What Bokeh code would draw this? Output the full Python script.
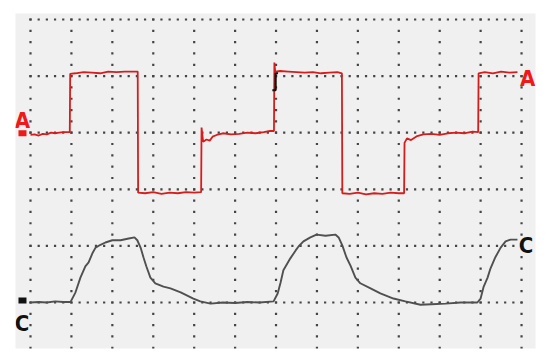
import numpy as np
from bokeh.plotting import figure
from bokeh.models import Range1d, ColumnDataSource
from bokeh.core.properties import value
from bokeh.embed import file_html
from bokeh.resources import INLINE

# ---- data (divisions) ----
a_x = [0.00, 0.10, 0.20, 0.30, 0.40, 0.50, 0.60, 0.70, 0.80, 0.96,
       0.97, 1.10, 1.30, 1.50, 1.70, 1.90, 2.10, 2.30, 2.62,
       2.63, 2.80, 3.00, 3.20, 3.40, 3.60, 3.80, 4.00, 4.17,
       4.18, 4.22, 4.30, 4.38, 4.45, 4.55, 4.70, 4.90, 5.10, 5.30, 5.50, 5.70, 5.85, 5.95,
       5.96, 5.98, 6.10, 6.30, 6.50, 6.70, 6.90, 7.10, 7.30, 7.50, 7.61,
       7.62, 7.80, 8.00, 8.20, 8.40, 8.60, 8.80, 9.00, 9.13,
       9.14, 9.20, 9.30, 9.45, 9.60, 9.80, 10.00, 10.20, 10.40, 10.60, 10.80, 10.94,
       10.95, 11.10, 11.30, 11.50, 11.70, 11.90]
a_y = [2.96, 2.97, 2.95, 2.98, 2.97, 3.00, 2.99, 3.00, 3.01, 3.01,
       4.04, 4.05, 4.07, 4.06, 4.05, 4.08, 4.07, 4.08, 4.08,
       1.94, 1.93, 1.95, 1.92, 1.94, 1.93, 1.95, 1.94, 1.95,
       3.09, 2.84, 2.88, 2.86, 2.93, 2.96, 2.99, 2.97, 2.98, 3.00, 2.99, 3.01, 3.03, 3.03,
       4.24, 4.08, 4.09, 4.08, 4.07, 4.06, 4.07, 4.05, 4.06, 4.07, 4.05,
       1.93, 1.92, 1.94, 1.91, 1.93, 1.92, 1.94, 1.93, 1.93,
       2.82, 2.90, 2.87, 2.94, 2.97, 2.98, 2.96, 2.99, 3.00, 2.99, 3.02, 3.01,
       4.05, 4.07, 4.05, 4.08, 4.06, 4.07]

c_x = [0.00, 0.20, 0.40, 0.60, 0.80, 0.98, 1.10, 1.22, 1.34, 1.42, 1.52, 1.59, 1.71, 1.83,
       2.00, 2.20, 2.40, 2.54, 2.61, 2.69, 2.76, 2.83, 2.93, 3.05, 3.25, 3.42, 3.67, 3.98,
       4.15, 4.40, 4.70, 5.00, 5.30, 5.60, 5.94, 6.04, 6.11, 6.18, 6.35, 6.48, 6.55, 6.67,
       6.84, 6.99, 7.21, 7.45, 7.53, 7.62, 7.72, 7.82, 7.94, 8.06, 8.31, 8.55, 8.87, 9.16,
       9.53, 9.80, 10.14, 10.51, 10.92, 11.00, 11.07, 11.17, 11.24, 11.36, 11.49, 11.61,
       11.73, 11.90]
c_y = [0.00, 0.01, 0.00, 0.02, 0.01, 0.01, 0.18, 0.44, 0.64, 0.71, 0.88, 0.97, 1.02, 1.06,
       1.10, 1.10, 1.13, 1.15, 1.10, 0.97, 0.80, 0.64, 0.44, 0.34, 0.28, 0.25, 0.18, 0.07,
       0.02, -0.02, 0.00, -0.01, 0.01, 0.00, 0.02, 0.16, 0.35, 0.57, 0.78, 0.92, 0.99, 1.08,
       1.15, 1.20, 1.18, 1.20, 1.15, 1.01, 0.80, 0.65, 0.44, 0.34, 0.25, 0.16, 0.07, 0.02,
       -0.04, -0.03, -0.02, 0.00, 0.00, 0.07, 0.27, 0.44, 0.60, 0.80, 0.97, 1.08,
       1.11, 1.11]

trig_x = [6.05, 5.99, 5.99, 5.91]
trig_y = [4.05, 4.05, 3.75, 3.75]

marker_x = [-0.196, -0.196]
marker_y = [2.99, 0.035]
marker_colors = ["#f01818", "#111111"]

label_text = ["A", "A", "C", "C"]
label_x = [-0.196, 12.15, -0.21, 12.11]
label_y = [3.21, 3.95, -0.37, 1.01]
label_colors = ["#f01818", "#f01818", "#111111", "#111111"]

n_xdiv = 12
n_ydiv = 5

p = figure(width=542, height=353, output_backend="svg", toolbar_location=None,
           x_range=Range1d(-0.3666, 12.341), y_range=Range1d(-0.8127, 5.106),
           min_border_left=15, min_border_right=7, min_border_top=13, min_border_bottom=5)
p.axis.visible = False
p.grid.visible = False
p.outline_line_color = None
p.background_fill_color = "#f0f0f0"
p.border_fill_color = "white"

# dotted graticule
gx, gy = [], []
for r in range(n_ydiv + 1):
    xs = np.round(np.arange(0, n_xdiv + 1e-9, 0.2), 3)
    gx.extend(xs); gy.extend([r] * len(xs))
for c in range(n_xdiv + 1):
    ys = np.round(np.arange(-0.8, n_ydiv + 1e-9, 0.2), 3)
    gx.extend([c] * len(ys)); gy.extend(ys)
p.scatter(gx, gy, marker="square", size=2.2, color="#444444", line_width=0)

p.line(c_x, c_y, line_color="#505050", line_width=1.9)
p.line(a_x, a_y, line_color="#d81c1c", line_width=1.8)
p.line(trig_x, trig_y, line_color="#111111", line_width=2.2)

p.rect(marker_x, marker_y, width=8, height=6, width_units="screen", height_units="screen",
       fill_color=marker_colors, line_color=None)

src = ColumnDataSource(dict(x=label_x, y=label_y, t=label_text, c=label_colors))
p.text("x", "y", text="t", source=src, text_color="c", text_align="center",
       text_baseline="alphabetic", text_font_size="22px", text_font_style="bold",
       text_font=value("DejaVu Sans Condensed"))

open("out.html", "w").write(file_html(p, INLINE))
